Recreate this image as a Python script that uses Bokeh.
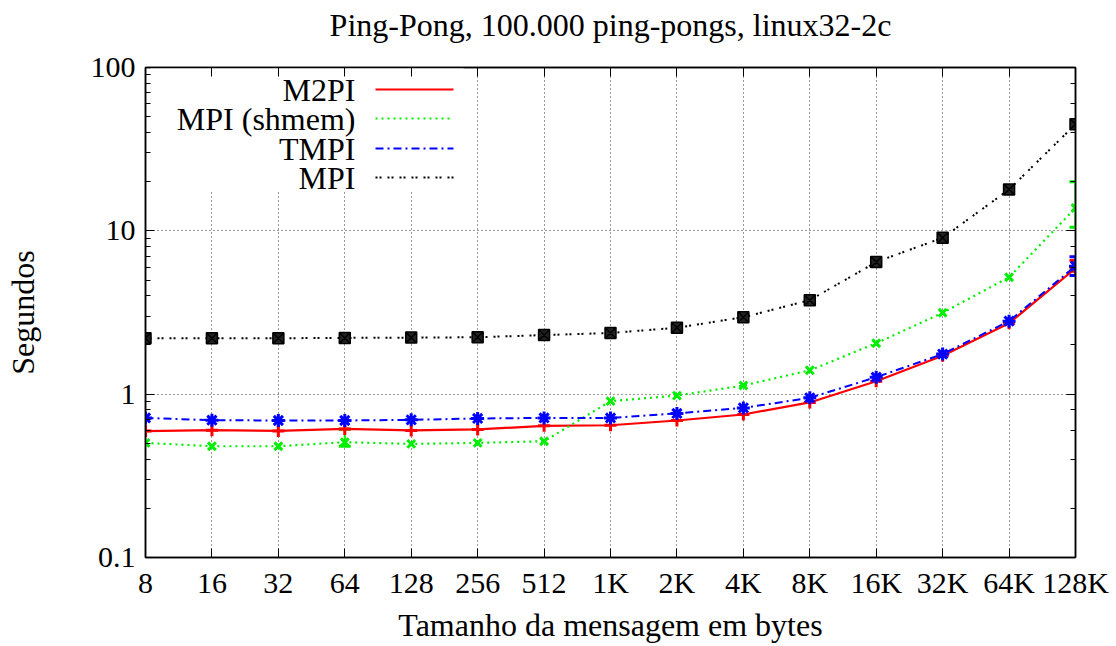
from bokeh.plotting import figure
from bokeh.models import (FixedTicker, LogAxis, LinearAxis, Whisker, ColumnDataSource,
                          Label, Arrow, BoxAnnotation, TeeHead, LogTicker, Range1d)
from bokeh.embed import file_html
from bokeh.resources import INLINE

title_text = "Ping-Pong, 100.000 ping-pongs, linux32-2c"
sizes = ["8", "16", "32", "64", "128", "256", "512", "1K", "2K", "4K", "8K", "16K", "32K", "64K", "128K"]
m2pi = [0.594, 0.602, 0.596, 0.613, 0.600, 0.608, 0.640, 0.645, 0.690, 0.751, 0.89, 1.20, 1.72, 2.72, 5.9]
mpi_shmem = [0.503, 0.480, 0.480, 0.508, 0.496, 0.503, 0.515, 0.906, 0.98, 1.13, 1.40, 2.05, 3.15, 5.2, 13.8]
tmpi = [0.715, 0.693, 0.690, 0.690, 0.696, 0.710, 0.715, 0.715, 0.762, 0.824, 0.95, 1.27, 1.76, 2.80, 6.08]
mpi = [2.20, 2.20, 2.20, 2.21, 2.22, 2.23, 2.30, 2.37, 2.55, 2.96, 3.76, 6.45, 9.06, 17.9, 44.9]
y_tick_labels = {0.1: "0.1", 1: "1", 10: "10", 100: "100"}

# visible error bars: (index, low, high)
m2pi_err = [(14, 5.66, 6.59)]
shmem_err = [(3, 0.48, 0.61), (14, 10.5, 20.0)]
tmpi_err = [(14, 5.32, 6.93)]
mpi_err = []

FONT = "Liberation Serif"
xs = list(range(len(sizes)))

p = figure(frame_width=930, frame_height=490, y_axis_type="log",
           x_range=Range1d(0, 14), y_range=Range1d(0.1, 100),
           output_backend="svg", toolbar_location=None,
           min_border_left=145, min_border_right=38, min_border_top=67, min_border_bottom=81,
           background_fill_color="white", border_fill_color="white",
           outline_line_color="black", outline_line_width=1.5)

# trailing empty line lifts the title text higher above the frame
p.title.text = title_text + "\n "
p.title.align = "center"
p.title.text_font = FONT
p.title.text_font_size = "32px"
p.title.text_font_style = "normal"
p.title.text_color = "black"
p.title.text_line_height = 0.6
p.title.standoff = 6

p.xaxis.ticker = FixedTicker(ticks=xs)
p.xaxis.major_label_overrides = {i: s for i, s in enumerate(sizes)}
p.yaxis.major_label_overrides = y_tick_labels
p.xaxis.axis_label = "Tamanho da mensagem em bytes"
p.yaxis.axis_label = "Segundos"

for ax in [p.xaxis[0], p.yaxis[0]]:
    ax.axis_line_color = "black"
    ax.axis_line_width = 1.5
    ax.major_tick_in = 9
    ax.major_tick_out = 0
    ax.minor_tick_in = 5
    ax.minor_tick_out = 0
    ax.major_tick_line_color = "black"
    ax.minor_tick_line_color = "black"
    ax.major_label_text_font = FONT
    ax.major_label_text_font_size = "30px"
    ax.major_label_text_color = "black"
    ax.axis_label_text_font = FONT
    ax.axis_label_text_font_size = "32px"
    ax.axis_label_text_font_style = "normal"
    ax.axis_label_text_color = "black"
p.xaxis.major_label_standoff = 8
p.yaxis.major_label_standoff = 10
p.xaxis.axis_label_standoff = 5
p.yaxis.axis_label_standoff = 47

# mirrored axes (ticks only)
top = LinearAxis(ticker=FixedTicker(ticks=xs), major_tick_in=9, major_tick_out=0,
                 minor_tick_out=0, minor_tick_in=0, axis_line_color="black", axis_line_width=1.5,
                 major_label_text_alpha=0, major_label_text_font_size="1px",
                 major_label_standoff=0)
right = LogAxis(ticker=LogTicker(), major_tick_in=9, major_tick_out=0,
                minor_tick_in=5, minor_tick_out=0, axis_line_color="black", axis_line_width=1.5,
                major_label_text_alpha=0, major_label_text_font_size="1px")
p.add_layout(top, "above")
p.add_layout(right, "right")

p.xgrid.ticker = FixedTicker(ticks=xs)
for g in [p.xgrid[0], p.ygrid[0]]:
    g.grid_line_color = "black"
    g.grid_line_dash = "1 3"
    g.grid_line_alpha = 0.8
    g.grid_line_width = 1

# legend backdrop hiding grid
p.add_layout(BoxAnnotation(left=5, right=318, top=490, bottom=367,
                           left_units="screen", right_units="screen",
                           top_units="screen", bottom_units="screen",
                           fill_color="white", fill_alpha=1, line_alpha=0, level="underlay"))

series = [
    ("M2PI", m2pi, m2pi_err, "#ff0000", "solid", 2.2, "cross", 12),
    ("MPI (shmem)", mpi_shmem, shmem_err, "#00ee00", "2 4", 2.2, "x", 11),
    ("TMPI", tmpi, tmpi_err, "#0000ff", "8 4 2 4", 2.0, "asterisk", 13),
    ("MPI", mpi, mpi_err, "black", "2 2 2 6", 2.0, "square", 11),
]

for name, vals, errs, color, dash, lw, marker, ms in series:
    src = ColumnDataSource(dict(x=xs, y=vals))
    p.line("x", "y", source=src, line_color=color, line_width=lw, line_dash=dash)
    if marker == "square":
        p.scatter("x", "y", source=src, marker="square_x", size=ms, fill_color="#222222",
                  line_color="black", line_width=1.5)
    else:
        p.scatter("x", "y", source=src, marker=marker, size=ms, line_color=color,
                  fill_color=color, line_width=3)
    if errs:
        esrc = ColumnDataSource(dict(base=[e[0] for e in errs], lower=[e[1] for e in errs],
                                     upper=[e[2] for e in errs]))
        p.add_layout(Whisker(base="base", lower="lower", upper="upper", source=esrc,
                             line_color=color, line_width=2,
                             upper_head=TeeHead(size=12, line_color=color, line_width=3),
                             lower_head=TeeHead(size=12, line_color=color, line_width=3)))

# custom legend: right-aligned text, line sample to the right
rows = [468, 439, 409, 380]
for (name, vals, errs, color, dash, lw, marker, ms), ry in zip(series, rows):
    p.add_layout(Label(x=210, y=ry, x_units="screen", y_units="screen", text=name,
                       text_align="right", text_baseline="middle", text_font=FONT,
                       text_font_size="32px", text_color="black"))
    p.add_layout(Arrow(x_start=230, y_start=ry, x_end=308, y_end=ry,
                       start_units="screen", end_units="screen", end=None,
                       line_color=color, line_width=lw, line_dash=dash))

open("out.html", "w").write(file_html(p, INLINE))
